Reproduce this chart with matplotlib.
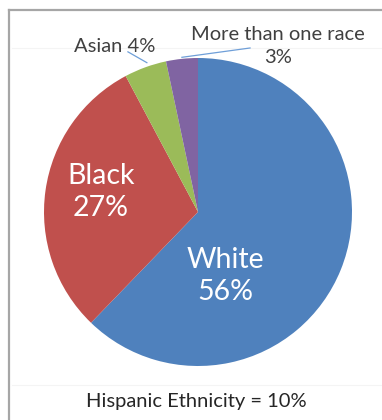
import numpy as np
import matplotlib.pyplot as plt
from matplotlib.lines import Line2D

# racial makeup; Hispanic ethnicity is reported separately below the pie
groups = ['White', 'Black', 'Asian', 'More than one race']
shares = [56, 27, 4, 3]
colors = ['#4F81BD', '#C0504D', '#9BBB59', '#8064A2']
hispanic = 10

plt.rcParams['font.family'] = ['Lato', 'DejaVu Sans']

fig = plt.figure(figsize=(3.82, 4.20), dpi=100)

# frame lines (top and left only) plus the faint plot-area rules, kept behind the axes
fig.add_artist(Line2D([9 / 382, 1], [1 - 10 / 420] * 2, color='#a6a6a6', lw=1.6, zorder=-1))
fig.add_artist(Line2D([9 / 382] * 2, [0, 1 - 10 / 420], color='#a6a6a6', lw=1.6, zorder=-1))
fig.add_artist(Line2D([12 / 382, 1], [1 - 48 / 420] * 2, color='#f4f4f4', lw=0.8, zorder=-1))
fig.add_artist(Line2D([12 / 382, 1], [1 - 385 / 420] * 2, color='#f4f4f4', lw=0.8, zorder=-1))

ax = fig.add_axes([44 / 382, 54 / 420, 308 / 382, 308 / 420])
ax.patch.set_alpha(0)
wedges, _ = ax.pie(shares, colors=colors, startangle=90, counterclock=False,
                   radius=1, wedgeprops=dict(linewidth=0))
ax.set_xlim(-1, 1)
ax.set_ylim(-1, 1)
ax.set_aspect('equal')
ax.axis('off')

# labels inside the two big slices
ax.text(0.175, -0.415, f'{groups[0]}\n{shares[0]}%', color='white', fontsize=20.5,
        ha='center', va='center', linespacing=1.25)
ax.text(-0.63, 0.13, f'{groups[1]}\n{shares[1]}%', color='white', fontsize=20.5,
        ha='center', va='center', linespacing=1.25)

# callouts for the two thin slices
line_col = '#6f9fd8'
txt_col = '#404040'
ax.text(-0.54, 1.075, f'{groups[2]} {shares[2]}%', ha='center', va='center',
        fontsize=14.5, color=txt_col)
ax.text(0.52, 1.078, f'{groups[3]}\n{shares[3]}%', ha='center', va='center',
        fontsize=14.5, color=txt_col, linespacing=1.45)


def edge_point(w, r=1.0):
    # point on the rim at the middle of a wedge
    a = np.deg2rad((w.theta1 + w.theta2) / 2)
    return r * np.cos(a), r * np.sin(a)


x2, y2 = edge_point(wedges[2], 1.0)
ax.plot([-0.455, x2 + 0.01], [1.04, y2 + 0.03], color=line_col, lw=0.9, clip_on=False)
x3, y3 = edge_point(wedges[3], 1.0)
ax.plot([0.338, x3], [1.065, y3 + 0.01], color=line_col, lw=0.9, clip_on=False)

fig.text(196 / 382, 1 - 402 / 420, f'Hispanic Ethnicity = {hispanic}%',
         ha='center', va='center', fontsize=14.5, color='#262626')

fig.savefig('out.png', dpi=100, facecolor='white')
